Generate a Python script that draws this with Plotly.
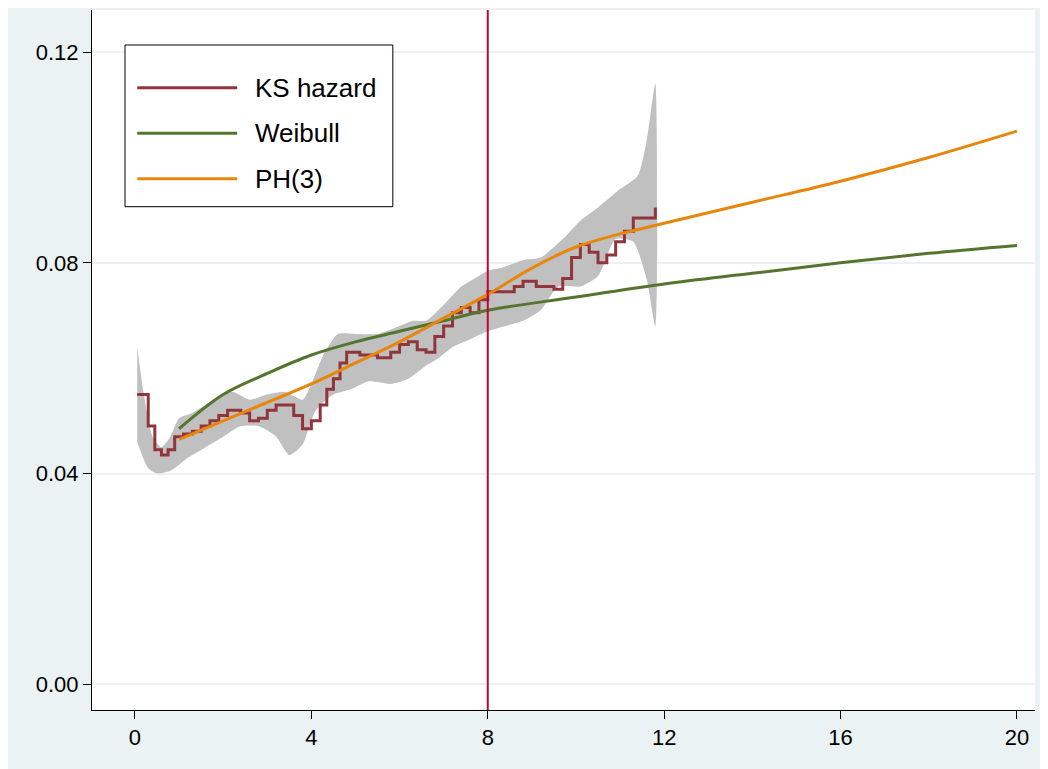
import plotly.graph_objects as go

ks_x = [0.05,0.15,0.3,0.45,0.6,0.75,0.9,1.1,1.3,1.5,1.7,1.9,2.1,2.4,2.6,2.8,3.0,3.2,3.5,3.6,3.8,4.0,4.2,4.35,4.5,4.65,4.8,5.1,5.5,5.8,6.0,6.2,6.4,6.6,6.8,7.0,7.2,7.4,7.6,7.8,8.0,8.3,8.6,8.8,9.1,9.5,9.7,9.9,10.1,10.3,10.5,10.7,10.9,11.1,11.3,11.5,11.8]
ks_y = [0.055,0.055,0.049,0.0445,0.0435,0.0445,0.047,0.0475,0.048,0.049,0.050,0.051,0.052,0.0515,0.050,0.0505,0.052,0.053,0.053,0.051,0.0485,0.050,0.053,0.056,0.058,0.061,0.063,0.0625,0.062,0.063,0.0645,0.065,0.0635,0.063,0.066,0.068,0.0705,0.0715,0.0705,0.073,0.0745,0.0745,0.0755,0.0765,0.0755,0.075,0.077,0.081,0.0835,0.082,0.080,0.0815,0.084,0.086,0.0885,0.0885,0.0905]

up_x = [0.05,0.2,0.4,0.6,0.8,1.0,1.3,1.8,2.2,2.6,3.0,3.4,3.8,4.0,4.3,4.6,5.0,5.5,6.0,6.3,6.6,7.0,7.4,7.8,8.0,8.3,8.8,9.2,9.7,10.1,10.5,11.0,11.4,11.6,11.8]
up_y = [0.064,0.055,0.047,0.045,0.047,0.0505,0.0515,0.054,0.0555,0.054,0.055,0.0555,0.054,0.057,0.063,0.0665,0.0665,0.0665,0.068,0.069,0.069,0.072,0.0755,0.0775,0.0785,0.079,0.0805,0.081,0.0845,0.088,0.0905,0.094,0.0965,0.103,0.114]
lo_x = [0.05,0.3,0.5,0.8,1.2,1.6,2.0,2.4,2.8,3.2,3.5,3.8,4.1,4.5,4.9,5.3,5.8,6.2,6.6,6.9,7.2,7.6,8.0,8.4,8.8,9.2,9.6,10.1,10.5,10.9,11.3,11.6,11.8]
lo_y = [0.046,0.041,0.040,0.0405,0.043,0.045,0.047,0.049,0.049,0.047,0.0435,0.0455,0.052,0.055,0.056,0.0575,0.057,0.058,0.0605,0.062,0.064,0.0655,0.067,0.068,0.069,0.071,0.0755,0.0755,0.0775,0.0845,0.084,0.077,0.068]

wb_x = [1,2,3,4,5,6,7,8,10,12,14,16,18,20]
wb_y = [0.0485,0.055,0.059,0.0625,0.065,0.067,0.069,0.071,0.0735,0.076,0.078,0.080,0.0818,0.0833]
ph_x = [1,2,3,4,5,6,7,8,9,10,11,12,14,16,18,20]
ph_y = [0.0465,0.050,0.0535,0.057,0.061,0.065,0.0695,0.074,0.079,0.083,0.0855,0.0875,0.0915,0.0955,0.100,0.105]

legend_labels = ["KS hazard", "Weibull", "PH(3)"]
colors = ["#90353b", "#55752f", "#e8860c"]

fig = go.Figure()
fig.add_trace(go.Scatter(x=up_x + lo_x[::-1], y=up_y + lo_y[::-1], fill="toself",
    fillcolor="#c0c0c0", line=dict(width=0, shape="spline", smoothing=0.6), mode="lines",
    showlegend=False, hoverinfo="skip"))
fig.add_trace(go.Scatter(x=ks_x, y=ks_y, mode="lines", line=dict(color=colors[0], width=3, shape="hv"), showlegend=False))
fig.add_trace(go.Scatter(x=wb_x, y=wb_y, mode="lines", line=dict(color=colors[1], width=3, shape="spline"), showlegend=False))
fig.add_trace(go.Scatter(x=ph_x, y=ph_y, mode="lines", line=dict(color=colors[2], width=3, shape="spline"), showlegend=False))
fig.add_vline(x=8, line=dict(color="#c10534", width=2))

# manual legend box
fig.add_shape(type="rect", xref="paper", yref="paper", x0=0.035, x1=0.319, y0=0.719, y1=0.95,
              line=dict(color="black", width=1), fillcolor="white", layer="above")
for i, (lab, c) in enumerate(zip(legend_labels, colors)):
    yy = [0.889, 0.824, 0.759][i]
    fig.add_shape(type="line", xref="paper", yref="paper", x0=0.048, x1=0.154, y0=yy, y1=yy,
                  line=dict(color=c, width=3), layer="above")
    fig.add_annotation(xref="paper", yref="paper", x=0.171, y=yy, text=lab, showarrow=False,
                       xanchor="left", yanchor="middle", font=dict(size=26))

fig.update_layout(
    width=1048, height=769, paper_bgcolor="#eaf2f3", plot_bgcolor="white",
    margin=dict(l=84, r=21, t=2, b=67), showlegend=False,
    font=dict(family="Liberation Sans, Arial", size=22, color="black"),
    xaxis=dict(range=[-0.975, 20.41], tickvals=[0,4,8,12,16,20], showgrid=False, zeroline=False,
               showline=True, linecolor="black", ticks="outside", ticklen=8, tickcolor="black",
               automargin=False),
    yaxis=dict(range=[-0.0049, 0.128], tickvals=[0,0.04,0.08,0.12], tickformat=".2f",
               showgrid=True, gridcolor="#eaf2f3", gridwidth=2, zeroline=False,
               showline=True, linecolor="black", ticks="outside", ticklen=8, tickcolor="black",
               automargin=False),
)
fig.write_html("out.html")
